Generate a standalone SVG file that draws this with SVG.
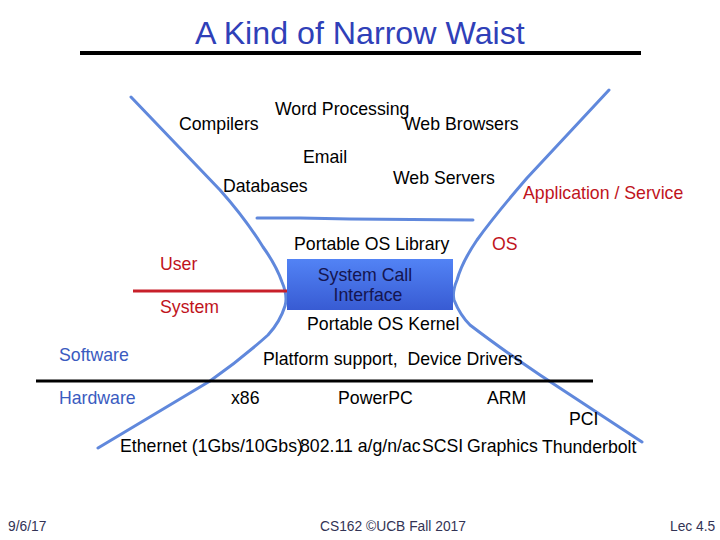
<svg xmlns="http://www.w3.org/2000/svg" width="720" height="540" viewBox="0 0 720 540">
<defs>
<linearGradient id="boxGrad" x1="0" y1="0" x2="0" y2="1">
<stop offset="0" stop-color="#5283f5"/>
<stop offset="1" stop-color="#385bd3"/>
</linearGradient>
<style>
text{font-family:"Liberation Sans",Arial,sans-serif;}
.t{font-size:17.7px;fill:#000;}
.r{font-size:17.7px;fill:#c0141c;}
.b{font-size:17.7px;fill:#3a5bc0;}
.f{font-size:13.8px;fill:#333355;}
.curve{fill:none;stroke:#6088dc;stroke-width:3;stroke-linejoin:round;stroke-linecap:round;}
</style>
</defs>
<rect width="720" height="540" fill="#fff"/>
<g id="title">
<text x="195" y="44" style="font-size:32.2px;fill:#2f40b8">A Kind of Narrow Waist</text>
<line x1="80" y1="53" x2="641" y2="53" stroke="#000" stroke-width="4"/>
</g>
<g id="connectors">
<path class="curve" d="M131,97 L220,190 Q245,218 263,247 Q276,265 282,282 Q288,296 285,306 Q280,322 268,335 Q240,360 210,381 L98,448"/>
<path class="curve" d="M609,90 L527,178 Q495,215 477,240 Q462,262 457,280 Q452,292 454,300 Q460,315 470,325 Q500,348 540,375 L642,442"/>
<path class="curve" d="M257,218 L300,218 L350,219 L473,220"/>
<line x1="133" y1="291" x2="330" y2="291" stroke="#c8202a" stroke-width="3"/>
<line x1="36" y1="381" x2="593" y2="381" stroke="#000" stroke-width="3"/>
</g>
<g id="apps">
<text class="t" x="179" y="130">Compilers</text>
<text class="t" x="275" y="115">Word Processing</text>
<text class="t" x="404" y="130">Web Browsers</text>
<text class="t" x="303" y="163">Email</text>
<text class="t" x="223" y="192">Databases</text>
<text class="t" x="393" y="184">Web Servers</text>
</g>
<g id="application-service"><text class="r" x="523" y="199">Application / Service</text></g>
<g id="portable-os-library"><text class="t" x="294" y="250">Portable OS Library</text></g>
<g id="os-label"><text class="r" x="492" y="250">OS</text></g>
<g id="user-label"><text class="r" x="160" y="270">User</text></g>
<g id="system-label"><text class="r" x="160" y="313">System</text></g>
<g id="syscall">
<rect x="287" y="259" width="166" height="51" fill="url(#boxGrad)"/>
<text class="t" x="365" y="281" text-anchor="middle" style="fill:#151550">System Call</text>
<text class="t" x="368" y="301" text-anchor="middle" style="fill:#151550">Interface</text>
</g>
<g id="portable-os-kernel"><text class="t" x="307" y="330">Portable OS Kernel</text></g>
<g id="platform"><text class="t" x="263" y="365" xml:space="preserve">Platform support,  Device Drivers</text></g>
<g id="software"><text class="b" x="59" y="361">Software</text></g>
<g id="hardware"><text class="b" x="59" y="404">Hardware</text></g>
<g id="hw-items">
<text class="t" x="231" y="404">x86</text>
<text class="t" x="338" y="404">PowerPC</text>
<text class="t" x="487" y="404">ARM</text>
<text class="t" x="569" y="425">PCI</text>
<text class="t" x="120" y="452">Ethernet (1Gbs/10Gbs)</text>
<text class="t" x="300" y="452">802.11 a/g/n/ac</text>
<text class="t" x="422" y="452">SCSI</text>
<text class="t" x="467" y="452">Graphics</text>
<text class="t" x="542" y="453">Thunderbolt</text>
</g>
<g id="footer">
<text class="f" x="8" y="531">9/6/17</text>
<text class="f" x="320" y="531">CS162 ©UCB Fall 2017</text>
<text class="f" x="670" y="531">Lec 4.5</text>
</g>
</svg>
